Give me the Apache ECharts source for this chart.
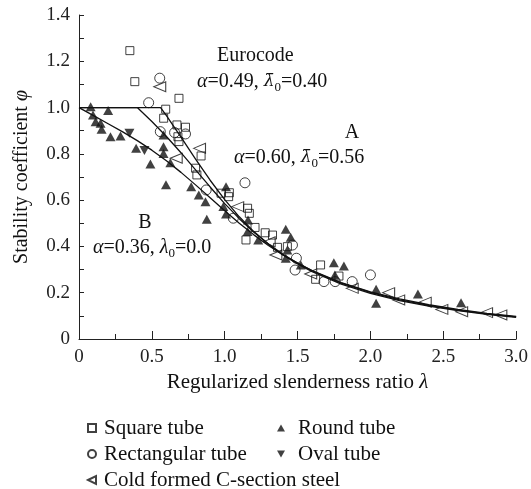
<!DOCTYPE html>
<html>
<head>
<meta charset="utf-8">
<script src="https://cdn.jsdelivr.net/npm/echarts@6/dist/echarts.min.js"></script>
<style>html,body{margin:0;padding:0;background:#fff}#c{width:531px;height:489px}</style>
</head>
<body>
<div id="c"></div>
<script>
// ---- data ----
const xTickLabels = ['0','0.5','1.0','1.5','2.0','2.5','3.0'];
const yTickLabels = ['0','0.2','0.4','0.6','0.8','1.0','1.2','1.4'];

const euroX = [0,0.4,0.45,0.5,0.6,0.7,0.8,0.9,1.0,1.1,1.2,1.3,1.4,1.5,1.6,1.8,2.0,2.2,2.4,2.6,2.8,3.0];
const euroY = [1,1,0.970,0.940,0.875,0.805,0.731,0.657,0.585,0.520,0.461,0.410,0.366,0.328,0.295,0.241,0.201,0.169,0.145,0.125,0.109,0.096];
const curveAX = [0,0.56,0.58,0.6,0.65,0.7,0.8,0.9,1.0,1.1,1.2,1.3,1.4,1.5,1.6,1.8,2.0,2.2,2.4,2.6,2.8,3.0];
const curveAY = [1,1,0.982,0.965,0.919,0.872,0.777,0.686,0.602,0.528,0.464,0.410,0.363,0.324,0.291,0.237,0.197,0.166,0.142,0.123,0.107,0.094];
const curveBX = [0,0.1,0.2,0.3,0.4,0.5,0.6,0.7,0.8,0.9,1.0,1.1,1.2,1.3,1.4,1.5,1.6,1.8,2.0,2.2,2.4,2.6,2.8,3.0];
const curveBY = [1,0.965,0.930,0.895,0.857,0.816,0.770,0.720,0.666,0.610,0.554,0.500,0.450,0.404,0.363,0.328,0.296,0.244,0.204,0.173,0.148,0.128,0.111,0.098];

const squareTube = [[0.349,1.246],[0.383,1.112],[0.686,1.040],[0.595,0.993],[0.581,0.954],[0.672,0.925],[0.731,0.915],[0.679,0.874],[0.686,0.853],[0.838,0.791],[0.80,0.738],[0.809,0.709],[0.975,0.630],[1.032,0.632],[1.027,0.615],[1.157,0.565],[1.169,0.543],[1.146,0.428],[1.208,0.482],[1.278,0.459],[1.328,0.449],[1.362,0.396],[1.430,0.399],[1.658,0.320],[1.624,0.258],[1.784,0.272]];
const rectTube = [[0.478,1.021],[0.554,1.127],[0.558,0.896],[0.656,0.892],[0.731,0.886],[0.873,0.644],[1.139,0.675],[1.059,0.522],[1.465,0.406],[1.492,0.349],[1.483,0.298],[1.681,0.248],[1.758,0.248],[1.875,0.248],[2.0,0.277]];
const roundTube = [[0.08,1.004],[0.20,0.987],[0.096,0.968],[0.114,0.939],[0.148,0.932],[0.155,0.906],[0.216,0.874],[0.285,0.877],[0.392,0.824],[0.49,0.756],[0.58,0.882],[0.58,0.831],[0.58,0.802],[0.627,0.762],[0.597,0.666],[0.77,0.658],[0.822,0.622],[0.868,0.593],[0.877,0.517],[1.009,0.658],[0.991,0.572],[1.009,0.540],[1.160,0.514],[1.157,0.465],[1.230,0.428],[1.419,0.474],[1.453,0.440],[1.430,0.385],[1.419,0.349],[1.522,0.320],[1.749,0.330],[1.818,0.315],[1.756,0.277],[2.039,0.215],[2.039,0.154],[2.326,0.194],[2.622,0.157]];
const ovalTube = [[0.346,0.889],[0.449,0.814]];
const coldC = [[0.554,1.09],[0.827,0.824],[0.667,0.781],[1.089,0.572],[1.305,0.42],[1.351,0.363],[1.590,0.281],[1.875,0.219],[2.125,0.200],[2.194,0.169],[2.376,0.159],[2.49,0.128],[2.626,0.118],[2.797,0.114],[2.895,0.104]];

// ---- chart ----
const FONT = 'Liberation Serif';
const chart = echarts.init(document.getElementById('c'), null, {renderer:'canvas'});
const zip = (xs, ys) => xs.map((x, i) => [x, ys[i]]);
const lineS = (name, xs, ys) => ({
  name, type:'line', data: zip(xs, ys), symbol:'none', smooth:false,
  lineStyle:{color:'#111', width:1.3}, z:2, silent:true
});
const hollow = {color:'rgba(255,255,255,0)', borderColor:'#111', borderWidth:1};
const filled = {color:'#111', borderColor:'#111', borderWidth:0};
const LEFT_TRI = 'path://M0,5L10,0L10,10Z';
const DOWN_TRI = 'path://M0,0L10,0L5,9Z';
const UP_TRI = 'path://M5,0L10,9L0,9Z';

const FS = 20;
const rich = {
  i:{fontFamily:FONT, fontSize:FS, fontStyle:'italic', lineHeight:24, fill:'#111'},
  b:{fontFamily:'DejaVu Serif', fontSize:17, fontStyle:'italic', lineHeight:24, fill:'#111'},
  n:{fontFamily:FONT, fontSize:FS, lineHeight:24, fill:'#111'},
  s:{fontFamily:FONT, fontSize:13, lineHeight:13, verticalAlign:'bottom', fill:'#111'}
};
const txt = (x, y, text, align) => ({
  type:'text', x, y, z:10,
  style:{text, fontFamily:FONT, fontSize:FS, lineHeight:24, fill:'#111', rich, align: align || 'left', verticalAlign:'middle'}
});
const nameRich = (fs) => ({i:{fontFamily:FONT, fontSize:fs, fontStyle:'italic', color:'#111'}});

chart.setOption({
  backgroundColor:'#fff',
  animation:false,
  grid:{left:79, right:13, top:15, bottom:150, containLabel:false},
  xAxis:{
    type:'value', min:0, max:3.0, interval:0.5,
    name:'Regularized slenderness ratio {i|λ}', nameLocation:'middle', nameGap:30,
    nameTextStyle:{fontFamily:FONT, fontSize:21, color:'#111', rich:nameRich(21)},
    axisLine:{lineStyle:{color:'#222', width:1}},
    axisTick:{inside:true, length:8, lineStyle:{color:'#222'}},
    minorTick:{show:true, splitNumber:2, length:5, lineStyle:{color:'#222'}},
    splitLine:{show:false},
    axisLabel:{fontFamily:FONT, fontSize:19, color:'#222', margin:9,
      formatter:(v)=> xTickLabels[Math.round(v/0.5)]}
  },
  yAxis:{
    type:'value', min:0, max:1.4, interval:0.2,
    name:'Stability coefficient {i|φ}', nameLocation:'middle', nameGap:47,
    nameTextStyle:{fontFamily:FONT, fontSize:FS, color:'#111', rich:nameRich(FS)},
    axisLine:{show:true, lineStyle:{color:'#222', width:1}},
    axisTick:{show:true, inside:true, length:5, lineStyle:{color:'#222'}},
    minorTick:{show:true, splitNumber:2, length:5, lineStyle:{color:'#222'}},
    splitLine:{show:false},
    axisLabel:{fontFamily:FONT, fontSize:19, color:'#222', margin:9,
      formatter:(v)=> yTickLabels[Math.round(v/0.2)]}
  },
  legend:[
    {data:['Square tube','Rectangular tube','Cold formed C-section steel'], orient:'vertical', left:82, top:412, height:77,
     itemWidth:8, itemHeight:8, itemGap:4, textStyle:{fontFamily:FONT, fontSize:21, lineHeight:22, color:'#111', padding:[0,0,0,3]}, selectedMode:false},
    {data:['Round tube','Oval tube'], orient:'vertical', left:272, top:412, height:77,
     itemWidth:8, itemHeight:8, itemGap:4, textStyle:{fontFamily:FONT, fontSize:21, lineHeight:22, color:'#111', padding:[0,0,0,8]}, selectedMode:false}
  ],
  graphic:[
    txt(217, 56, 'Eurocode'),
    txt(197, 82, '{i|α}{n|=0.49, }{b|λ̄}{s|0}{n|=0.40}'),
    txt(352, 133, 'A', 'center'),
    txt(234, 158, '{i|α}{n|=0.60, }{b|λ̄}{s|0}{n|=0.56}'),
    txt(145, 223, 'B', 'center'),
    txt(93, 248, '{i|α}{n|=0.36, }{i|λ}{s|0}{n|=0.0}')
  ],
  series:[
    lineS('Eurocode', euroX, euroY),
    lineS('A', curveAX, curveAY),
    lineS('B', curveBX, curveBY),
    {name:'Square tube', type:'scatter', data:squareTube, symbol:'rect', symbolSize:8, itemStyle:hollow, z:3},
    {name:'Rectangular tube', type:'scatter', data:rectTube, symbol:'circle', symbolSize:10, itemStyle:hollow, z:3},
    {name:'Cold formed C-section steel', type:'scatter', data:coldC, symbol:LEFT_TRI, symbolSize:[12,10], itemStyle:hollow, z:3},
    {name:'Round tube', type:'scatter', data:roundTube, symbol:UP_TRI, symbolSize:[10,9], itemStyle:filled, z:4},
    {name:'Oval tube', type:'scatter', data:ovalTube, symbol:DOWN_TRI, symbolSize:[10,9], itemStyle:filled, z:4}
  ]
});
</script>
</body>
</html>
